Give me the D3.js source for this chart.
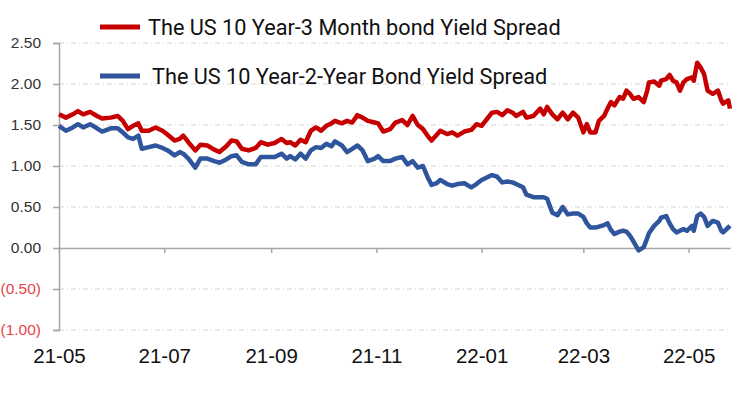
<!DOCTYPE html>
<html>
<head>
<meta charset="utf-8">
<script src="https://cdn.jsdelivr.net/npm/d3@7"></script>
<style>
	body { margin: 0; background: #fff; }
	.axisLabel { font-family: "Liberation Sans", Arial, sans-serif; }
	.legend { font-family: Roboto, "DejaVu Sans", sans-serif; fill: #111; }
</style>
</head>
<body>
<script>
'use strict'

const dates = [
	"2021-05-01", "2021-05-05", "2021-05-09", "2021-05-12", "2021-05-15", "2021-05-19", "2021-05-23", "2021-05-26",
	"2021-05-31", "2021-06-04", "2021-06-07", "2021-06-10", "2021-06-13", "2021-06-16", "2021-06-18", "2021-06-22",
	"2021-06-26", "2021-06-30", "2021-07-03", "2021-07-07", "2021-07-10", "2021-07-12", "2021-07-15", "2021-07-19",
	"2021-07-22", "2021-07-26", "2021-07-30", "2021-08-02", "2021-08-06", "2021-08-09", "2021-08-12", "2021-08-15",
	"2021-08-19", "2021-08-23", "2021-08-26", "2021-08-30", "2021-09-03", "2021-09-07", "2021-09-10", "2021-09-12",
	"2021-09-15", "2021-09-18", "2021-09-21", "2021-09-24", "2021-09-27", "2021-09-30", "2021-10-03", "2021-10-06",
	"2021-10-08", "2021-10-12", "2021-10-15", "2021-10-18", "2021-10-21", "2021-10-24", "2021-10-27", "2021-10-31",
	"2021-11-02", "2021-11-05", "2021-11-09", "2021-11-12", "2021-11-16", "2021-11-19", "2021-11-22", "2021-11-25",
	"2021-11-28", "2021-12-01", "2021-12-03", "2021-12-06", "2021-12-08", "2021-12-12", "2021-12-15", "2021-12-18",
	"2021-12-22", "2021-12-26", "2021-12-29", "2022-01-01", "2022-01-04", "2022-01-07", "2022-01-10", "2022-01-13",
	"2022-01-16", "2022-01-19", "2022-01-21", "2022-01-25", "2022-01-27", "2022-01-31", "2022-02-04", "2022-02-06",
	"2022-02-08", "2022-02-11", "2022-02-14", "2022-02-17", "2022-02-20", "2022-02-23", "2022-02-26", "2022-03-01",
	"2022-03-03", "2022-03-05", "2022-03-08", "2022-03-10", "2022-03-13", "2022-03-15", "2022-03-17", "2022-03-19",
	"2022-03-22", "2022-03-24", "2022-03-26", "2022-03-28", "2022-03-30", "2022-04-02", "2022-04-05", "2022-04-07",
	"2022-04-08", "2022-04-11", "2022-04-14", "2022-04-15", "2022-04-18", "2022-04-20", "2022-04-22", "2022-04-24",
	"2022-04-26", "2022-04-28", "2022-04-30", "2022-05-03", "2022-05-04", "2022-05-06", "2022-05-08", "2022-05-10",
	"2022-05-12", "2022-05-15", "2022-05-18", "2022-05-20", "2022-05-21", "2022-05-24", "2022-05-25"
];

// 10Y - 3M spread
const spread3m = [
	1.63, 1.59, 1.63, 1.67, 1.63, 1.66, 1.61, 1.58,
	1.59, 1.61, 1.55, 1.45, 1.49, 1.52, 1.43, 1.43,
	1.47, 1.43, 1.38, 1.31, 1.33, 1.37, 1.29, 1.19,
	1.26, 1.25, 1.20, 1.17, 1.24, 1.31, 1.30, 1.21,
	1.19, 1.22, 1.29, 1.26, 1.28, 1.33, 1.28, 1.29,
	1.25, 1.32, 1.29, 1.43, 1.47, 1.43, 1.49, 1.52,
	1.55, 1.52, 1.55, 1.53, 1.62, 1.59, 1.55, 1.53,
	1.52, 1.42, 1.45, 1.53, 1.56, 1.50, 1.61, 1.50,
	1.45, 1.36, 1.31, 1.38, 1.43, 1.39, 1.41, 1.37,
	1.42, 1.44, 1.51, 1.49, 1.57, 1.65, 1.66, 1.62,
	1.68, 1.65, 1.61, 1.66, 1.59, 1.61, 1.70, 1.63,
	1.72, 1.63, 1.57, 1.65, 1.57, 1.65, 1.59, 1.41,
	1.51, 1.41, 1.41, 1.55, 1.61, 1.70, 1.78, 1.74,
	1.84, 1.82, 1.92, 1.88, 1.82, 1.84, 1.78, 1.92,
	2.02, 2.03, 1.98, 2.04, 2.06, 2.11, 2.04, 2.02,
	1.92, 2.02, 2.06, 2.08, 2.04, 2.26, 2.20, 2.12,
	1.92, 1.88, 1.92, 1.80, 1.76, 1.80, 1.70
];

// 10Y - 2Y spread
const spread2y = [
	1.49, 1.43, 1.47, 1.51, 1.47, 1.51, 1.46, 1.42,
	1.46, 1.46, 1.41, 1.35, 1.33, 1.37, 1.21, 1.23,
	1.25, 1.22, 1.19, 1.13, 1.17, 1.15, 1.09, 0.98,
	1.09, 1.09, 1.06, 1.04, 1.08, 1.12, 1.13, 1.05,
	1.02, 1.02, 1.11, 1.11, 1.11, 1.15, 1.09, 1.12,
	1.08, 1.15, 1.09, 1.19, 1.23, 1.22, 1.27, 1.24,
	1.30, 1.25, 1.17, 1.21, 1.25, 1.19, 1.06, 1.09,
	1.12, 1.06, 1.06, 1.09, 1.11, 1.02, 1.06, 0.98,
	1.00, 0.85, 0.77, 0.79, 0.83, 0.78, 0.76, 0.78,
	0.79, 0.74, 0.78, 0.83, 0.86, 0.89, 0.87, 0.80,
	0.81, 0.80, 0.78, 0.74, 0.65, 0.62, 0.62, 0.62,
	0.60, 0.43, 0.40, 0.50, 0.41, 0.42, 0.42, 0.38,
	0.30, 0.25, 0.25, 0.26, 0.28, 0.30, 0.22, 0.17,
	0.20, 0.21, 0.20, 0.15, 0.08, -0.03, 0.01, 0.12,
	0.18, 0.27, 0.33, 0.37, 0.39, 0.30, 0.23, 0.19,
	0.21, 0.23, 0.21, 0.27, 0.21, 0.39, 0.42, 0.38,
	0.27, 0.33, 0.31, 0.21, 0.19, 0.25, 0.27
];

const seriesNames = ["The US 10 Year-3 Month bond Yield Spread", "The US 10 Year-2-Year Bond Yield Spread"];
const seriesColors = ["#c60000", "#2f559c"];

const yTicks = [-1, -0.5, 0, 0.5, 1, 1.5, 2, 2.5];
const yTickLabels = ["(1.00)", "(0.50)", "0.00", "0.50", "1.00", "1.50", "2.00", "2.50"];
const xTicks = ["2021-05-01", "2021-07-01", "2021-09-01", "2021-11-01", "2022-01-01", "2022-03-01", "2022-05-01"];
const xTickLabels = ["21-05", "21-07", "21-09", "21-11", "22-01", "22-03", "22-05"];

const w = 755;
const h = 393;
const plotLeft = 59;
const plotRight = 730;
const plotTop = 43;
const plotBottom = 330;

const parseTime = d3.timeParse("%Y-%m-%d");
const parsedDates = dates.map(parseTime);

const xScale = d3.scaleTime()
	.domain([parseTime("2021-05-01"), parseTime("2022-05-25")])
	.range([plotLeft, plotRight]);

const yScale = d3.scaleLinear()
	.domain([-1, 2.5])
	.range([plotBottom, plotTop]);

const svg = d3.select("body")
	.append("svg")
	.attr("width", w)
	.attr("height", h);

// dashed gridlines
svg.append("g")
	.selectAll("line")
	.data(yTicks.filter((d) => d !== 0))
	.enter()
	.append("line")
	.attr("x1", plotLeft)
	.attr("x2", plotRight)
	.attr("y1", (d) => yScale(d))
	.attr("y2", (d) => yScale(d))
	.attr("stroke", "#d4d4d4")
	.attr("stroke-width", 1)
	.attr("stroke-dasharray", "5,3,1,3");

const yAxis = d3.axisLeft(yScale)
	.tickValues(yTicks)
	.tickSize(6)
	.tickPadding(12)
	.tickFormat((d, i) => yTickLabels[i]);

const gy = svg.append("g")
	.attr("class", "axisLabel")
	.attr("transform", "translate(" + plotLeft + ",0)")
	.call(yAxis);
gy.select(".domain").attr("stroke", "#a6a6a6").attr("stroke-width", 1.5);
gy.selectAll(".tick line").attr("stroke", "#a6a6a6").attr("stroke-width", 1.5);
gy.selectAll(".tick text")
	.attr("font-size", 15.5)
	.attr("fill", (d) => d < 0 ? "#e8434b" : "#333");

const xAxis = d3.axisBottom(xScale)
	.tickValues(xTicks.map(parseTime))
	.tickSize(5)
	.tickSizeOuter(0)
	.tickFormat((d, i) => xTickLabels[i]);

const gx = svg.append("g")
	.attr("class", "axisLabel")
	.attr("transform", "translate(0," + yScale(0) + ")")
	.call(xAxis);
gx.select(".domain").attr("stroke", "#a6a6a6").attr("stroke-width", 1.5);
gx.selectAll(".tick line").attr("stroke", "#a6a6a6").attr("stroke-width", 1.5);
gx.selectAll(".tick text")
	.attr("font-size", 20.5)
	.attr("fill", "#111")
	.attr("y", 0)
	.attr("dy", 0)
	.attr("transform", "translate(0," + (plotBottom + 33 - yScale(0)) + ")");

const line = d3.line()
	.x((d) => xScale(d.date))
	.y((d) => yScale(d.value));

[spread3m, spread2y].forEach((values, k) => {
	const points = values.map((v, i) => ({ date: parsedDates[i], value: v }));
	svg.append("path")
		.datum(points)
		.attr("fill", "none")
		.attr("stroke", seriesColors[k])
		.attr("stroke-width", 4.5)
		.attr("stroke-linejoin", "round")
		.attr("d", line);
});

// legend
const legendY = [27, 76];
const legendTextX = [148, 152];
seriesNames.forEach((name, k) => {
	svg.append("line")
		.attr("x1", 100)
		.attr("x2", 140)
		.attr("y1", legendY[k])
		.attr("y2", legendY[k])
		.attr("stroke", seriesColors[k])
		.attr("stroke-width", 5);
	svg.append("text")
		.attr("class", "legend")
		.attr("x", legendTextX[k])
		.attr("y", legendY[k] + 8)
		.attr("font-size", 21.7)
		.text(name);
});
</script>
</body>
</html>
